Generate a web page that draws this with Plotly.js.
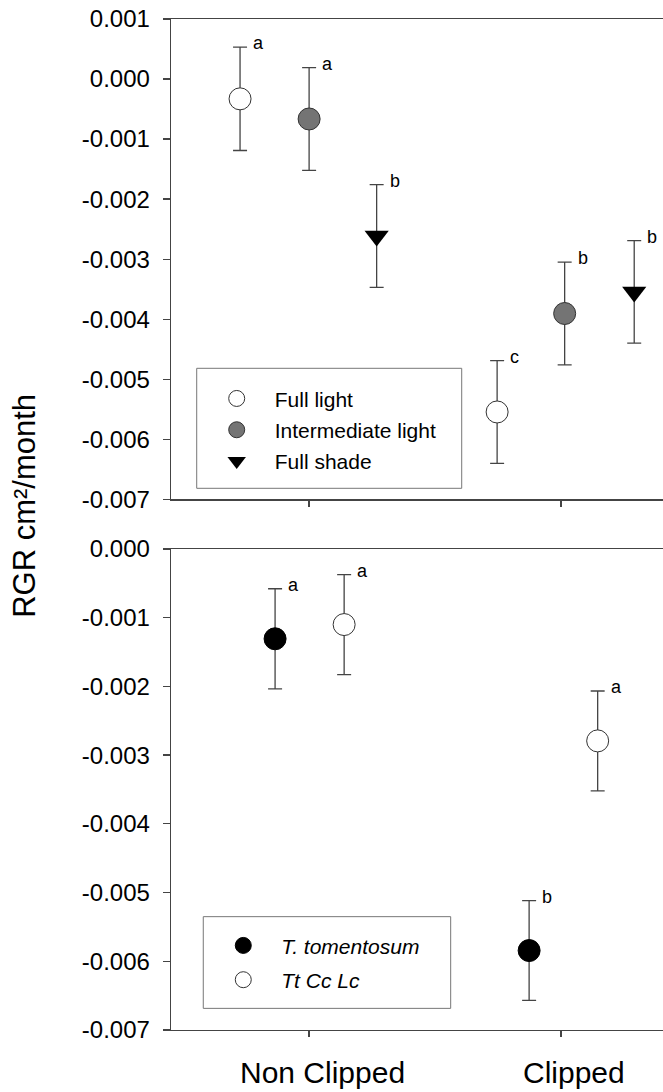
<!DOCTYPE html>
<html>
<head>
<meta charset="utf-8">
<script src="https://cdn.plot.ly/plotly-3.0.1.min.js"></script>
<style>
html, body { margin: 0; padding: 0; background: #fff; overflow: hidden; }
#chart { width: 720px; height: 1092px; }
</style>
</head>
<body>
<div id="chart"></div>
<script>
// ---- data ----
const groupLabels = ['Non Clipped', 'Clipped'];
const groupPos = [1, 2];

// top panel: light treatments
const fullLightX = [0.726, 1.746];
const fullLightY = [-0.00033, -0.005545];
const fullLightErr = [0.00086, 0.000855];
const fullLightLetters = ['a', 'c'];

const interLightX = [1.0, 2.014];
const interLightY = [-0.000665, -0.003905];
const interLightErr = [0.000855, 0.000855];
const interLightLetters = ['a', 'b'];

const fullShadeX = [1.268, 2.29];
const fullShadeY = [-0.002615, -0.003545];
const fullShadeErr = [0.000855, 0.000855];
const fullShadeLetters = ['b', 'b'];

// bottom panel: species
const tomentosumX = [0.865, 1.873];
const tomentosumY = [-0.001307, -0.005844];
const tomentosumErr = [0.000728, 0.000726];
const tomentosumLetters = ['a', 'b'];

const mixX = [1.139, 2.145];
const mixY = [-0.0011, -0.002793];
const mixErr = [0.000728, 0.000726];
const mixLetters = ['a', 'a'];

const topTickVals = [0.001, 0, -0.001, -0.002, -0.003, -0.004, -0.005, -0.006, -0.007];
const topTickText = ['0.001', '0.000', '-0.001', '-0.002', '-0.003', '-0.004', '-0.005', '-0.006', '-0.007'];
const botTickVals = [0, -0.001, -0.002, -0.003, -0.004, -0.005, -0.006, -0.007];
const botTickText = ['0.000', '-0.001', '-0.002', '-0.003', '-0.004', '-0.005', '-0.006', '-0.007'];

// ---- styling ----
const FONT = 'Arial, "Liberation Sans", Helvetica, sans-serif';
const AX = '#444';
const errStyle = (arr) => ({type: 'data', array: arr, visible: true, color: AX, thickness: 1.3, width: 7});

function trace(x, y, err, name, marker, xa, ya, leg, grp) {
  return {
    type: 'scatter', mode: 'markers', x: x, y: y, name: name,
    xaxis: xa, yaxis: ya, legend: leg, legendgroup: grp,
    error_y: errStyle(err), marker: marker, hoverinfo: 'skip'
  };
}

const data = [
  trace(fullLightX, fullLightY, fullLightErr, 'Full light',
    {symbol: 'circle', size: 22, color: '#ffffff', line: {color: '#333', width: 1}}, 'x', 'y', 'legend', 'g1'),
  trace(interLightX, interLightY, interLightErr, 'Intermediate light',
    {symbol: 'circle', size: 22, color: '#747474', line: {color: '#333', width: 1}}, 'x', 'y', 'legend', 'g2'),
  trace(fullShadeX, fullShadeY, fullShadeErr, 'Full shade',
    {symbol: 'triangle-down', size: 21, color: '#000000', line: {color: '#000', width: 0}}, 'x', 'y', 'legend', 'g3'),
  trace(tomentosumX, tomentosumY, tomentosumErr, '<i>T. tomentosum</i>',
    {symbol: 'circle', size: 22, color: '#000000', line: {color: '#000', width: 1}}, 'x2', 'y2', 'legend2', 'g4'),
  trace(mixX, mixY, mixErr, '<i>Tt Cc Lc</i>',
    {symbol: 'circle', size: 22, color: '#ffffff', line: {color: '#333', width: 1}}, 'x2', 'y2', 'legend2', 'g5')
];

const annotations = [];
function addLetters(xs, ys, errs, letters, xref, yref) {
  for (let i = 0; i < xs.length; i++) {
    annotations.push({
      x: xs[i], y: ys[i] + errs[i], xref: xref, yref: yref,
      text: letters[i], showarrow: false, xanchor: 'left', yanchor: 'middle',
      xshift: 11, yshift: 4, font: {family: FONT, size: 18, color: '#000'}
    });
  }
}
addLetters(fullLightX, fullLightY, fullLightErr, fullLightLetters, 'x', 'y');
addLetters(interLightX, interLightY, interLightErr, interLightLetters, 'x', 'y');
addLetters(fullShadeX, fullShadeY, fullShadeErr, fullShadeLetters, 'x', 'y');
addLetters(tomentosumX, tomentosumY, tomentosumErr, tomentosumLetters, 'x2', 'y2');
addLetters(mixX, mixY, mixErr, mixLetters, 'x2', 'y2');

groupLabels.forEach((lab, i) => {
  annotations.push({
    x: groupPos[i], y: -0.0425, xref: 'x2', yref: 'paper', text: lab,
    showarrow: false, xanchor: 'center', yanchor: 'middle', xshift: 13,
    font: {family: FONT, size: 30, color: '#000'}
  });
});

annotations.push({
  x: -0.2764, y: 0.518, xref: 'paper', yref: 'paper', text: 'RGR cm²/month',
  showarrow: false, textangle: -90, xanchor: 'center', yanchor: 'middle',
  font: {family: FONT, size: 31, color: '#000'}
});

// legend frames
const shapes = [
  {type: 'rect', xref: 'paper', yref: 'paper', x0: 0.0485, x1: 0.5485, y0: 0.5358, y1: 0.6545,
   line: {color: '#777', width: 1}, fillcolor: 'rgba(0,0,0,0)', layer: 'above'},
  {type: 'rect', xref: 'paper', yref: 'paper', x0: 0.0609, x1: 0.5277, y0: 0.0214, y1: 0.1121,
   line: {color: '#777', width: 1}, fillcolor: 'rgba(0,0,0,0)', layer: 'above'}
];

const xCommon = {
  range: [0.452, 2.555], tickvals: groupPos, showticklabels: false,
  ticks: 'outside', ticklen: 6, tickcolor: AX, tickwidth: 1.3,
  showline: true, linecolor: AX, linewidth: 1.3, mirror: true,
  showgrid: false, zeroline: false, fixedrange: true
};
const yCommon = {
  ticks: 'outside', ticklen: 7, tickcolor: AX, tickwidth: 1.3,
  showline: true, linecolor: AX, linewidth: 1.3, mirror: true,
  showgrid: false, zeroline: false, ticklabelstandoff: 8,
  tickfont: {family: FONT, size: 24, color: '#000'}, fixedrange: true
};

const layout = {
  width: 720, height: 1092,
  margin: {l: 171, r: 19, t: 19, b: 62},
  paper_bgcolor: '#fff', plot_bgcolor: '#fff',
  font: {family: FONT, color: '#000'},
  xaxis: Object.assign({}, xCommon, {anchor: 'y', domain: [0, 1]}),
  yaxis: Object.assign({}, yCommon, {anchor: 'x', domain: [0.5249, 1], range: [-0.007, 0.001],
    tickvals: topTickVals, ticktext: topTickText}),
  xaxis2: Object.assign({}, xCommon, {anchor: 'y2', domain: [0, 1]}),
  yaxis2: Object.assign({}, yCommon, {anchor: 'x2', domain: [0, 0.4758], range: [-0.007, 0],
    tickvals: botTickVals, ticktext: botTickText}),
  legend: {
    x: 0.0485, y: 0.6446, xanchor: 'left', yanchor: 'top',
    bgcolor: 'rgba(0,0,0,0)', borderwidth: 0, tracegroupgap: 1,
    font: {family: FONT, size: 21, color: '#000'}, itemwidth: 66, indentation: 2
  },
  legend2: {
    x: 0.0609, y: 0.1036, xanchor: 'left', yanchor: 'top',
    bgcolor: 'rgba(0,0,0,0)', borderwidth: 0, tracegroupgap: 4,
    font: {family: FONT, size: 21, color: '#000'}, itemwidth: 66, indentation: 2
  },
  shapes: shapes,
  annotations: annotations,
  showlegend: true
};

Plotly.newPlot('chart', data, layout, {displayModeBar: false, staticPlot: true});
</script>
</body>
</html>
